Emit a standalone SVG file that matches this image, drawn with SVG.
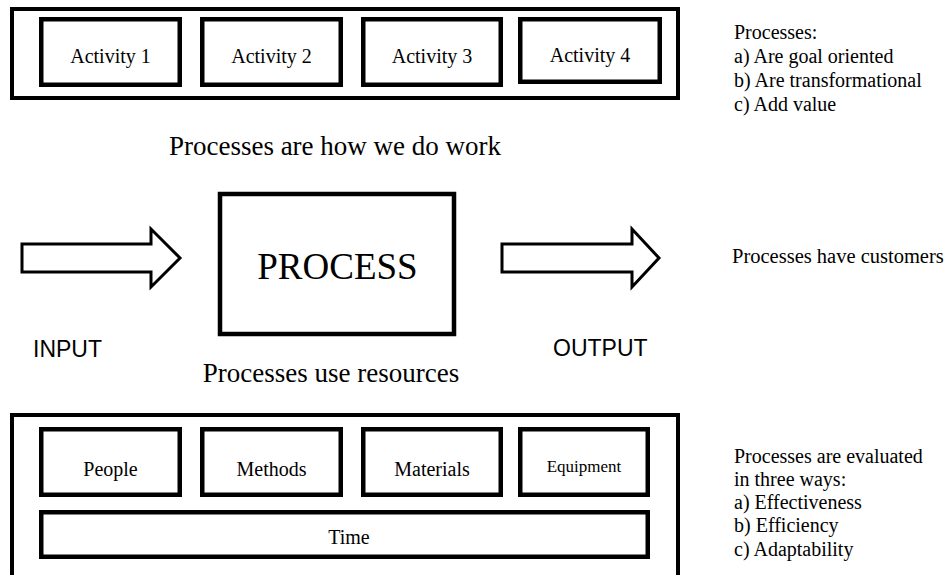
<svg xmlns="http://www.w3.org/2000/svg" width="946" height="575" viewBox="0 0 946 575">
<style>
.outer{fill:none;stroke:#000;stroke-width:4}
.box{fill:#fff;stroke:#000;stroke-width:4.5}
.arrow{fill:#fff;stroke:#000;stroke-width:3;stroke-linejoin:miter}
text{font-family:'Liberation Serif','DejaVu Serif','Times New Roman',serif;fill:#000}
text.s{font-family:'Liberation Sans','DejaVu Sans',Arial,sans-serif}
.c{text-anchor:middle}
</style>
<rect width="946" height="575" fill="#fff"/>
<g id="activities">
<rect class="outer" x="12" y="9" width="666" height="89"/>
</g>
<g id="activity1"><rect class="box" x="41.25" y="19.25" width="138.5" height="65.5"/><text class="c" x="110.5" y="63" font-size="20">Activity 1</text></g>
<g id="activity2"><rect class="box" x="202.25" y="19.25" width="138.5" height="65.5"/><text class="c" x="271.5" y="63" font-size="20">Activity 2</text></g>
<g id="activity3"><rect class="box" x="363.25" y="19.25" width="137.5" height="65.5"/><text class="c" x="432" y="63" font-size="20">Activity 3</text></g>
<g id="activity4"><rect class="box" x="520.25" y="19.25" width="139.5" height="62.5"/><text class="c" x="590" y="62" font-size="20">Activity 4</text></g>
<g id="notes-top">
<text x="734" y="39" font-size="20">Processes:</text>
<text x="734" y="63" font-size="20">a) Are goal oriented</text>
<text x="734" y="87" font-size="20">b) Are transformational</text>
<text x="734" y="111" font-size="20">c) Add value</text>
</g>
<text class="c" x="335" y="155" font-size="27">Processes are how we do work</text>
<g id="process"><rect class="box" x="220" y="194" width="234" height="140"/><text class="c" x="337.5" y="279" font-size="37">PROCESS</text></g>
<g id="connectors">
<polygon class="arrow" points="22,244 151,244 151,229 180,258 151,287 151,272 22,272"/>
<polygon class="arrow" points="502,244 632,244 632,229 659,258 632,287 632,272 502,272"/>
</g>
<g id="input"><text class="s" x="33" y="357" font-size="23">INPUT</text></g>
<g id="output"><text class="s" x="553" y="356" font-size="23">OUTPUT</text></g>
<text x="732" y="263" font-size="20.5">Processes have customers</text>
<text class="c" x="331" y="382" font-size="27">Processes use resources</text>
<g id="resources"><rect class="outer" x="12" y="415" width="666" height="200"/></g>
<g id="people"><rect class="box" x="41.25" y="429.25" width="138.5" height="65.5"/><text class="c" x="110.5" y="476" font-size="20">People</text></g>
<g id="methods"><rect class="box" x="202.25" y="429.25" width="138.5" height="65.5"/><text class="c" x="271.5" y="476" font-size="20">Methods</text></g>
<g id="materials"><rect class="box" x="363.25" y="429.25" width="137.5" height="65.5"/><text class="c" x="432" y="476" font-size="20">Materials</text></g>
<g id="equipment"><rect class="box" x="520.25" y="429.25" width="127.5" height="65.5"/><text class="c" x="584" y="472" font-size="17">Equipment</text></g>
<g id="time"><rect class="box" x="41.25" y="512.25" width="606.5" height="44.5"/><text class="c" x="349" y="544" font-size="20">Time</text></g>
<g id="notes-bottom">
<text x="734" y="463" font-size="20">Processes are evaluated</text>
<text x="734" y="486" font-size="20">in three ways:</text>
<text x="734" y="509" font-size="20">a) Effectiveness</text>
<text x="734" y="532" font-size="20">b) Efficiency</text>
<text x="734" y="556" font-size="20">c) Adaptability</text>
</g>
</svg>
